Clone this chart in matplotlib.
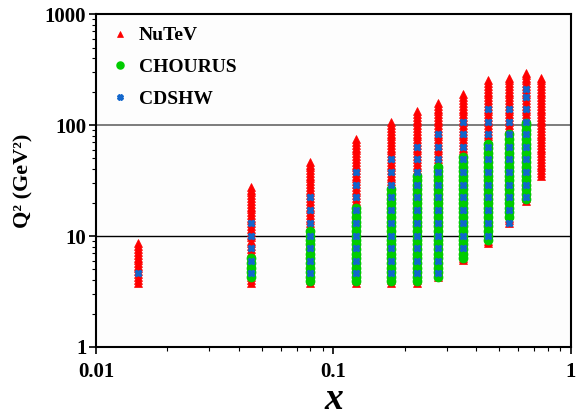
import numpy as np
import matplotlib
matplotlib.use('Agg')
import matplotlib.pyplot as plt
from matplotlib.ticker import FixedLocator, FixedFormatter, LogLocator, NullFormatter

plt.rcParams['font.family'] = ['Liberation Serif', 'DejaVu Serif']
plt.rcParams['font.weight'] = 'bold'

# x bins shared by the three data sets
x_bins = [0.015, 0.045, 0.08, 0.125, 0.175, 0.225, 0.275, 0.35, 0.45, 0.55, 0.65, 0.75]

# Q2 grid values (GeV^2) of each experiment
nutev_q2 = [3.8, 4.0, 4.3, 4.5, 4.8, 5.1, 5.4, 5.7, 6.1, 6.4, 6.8, 7.2, 7.7,
            8.1, 8.6, 9.1, 9.7, 10.3, 10.9, 11.6, 12.3, 13.0, 13.8, 14.6, 15.5,
            16.4, 17.4, 18.4, 19.5, 20.7, 21.9, 23.3, 24.7, 26.1, 27.7, 29.4,
            31.1, 33.0, 35.0, 37.1, 39.3, 41.6, 44.1, 46.8, 49.6, 52.6, 55.7,
            59.1, 62.6, 66.4, 70.4, 74.6, 79.1, 83.8, 88.8, 94.2, 99.8, 106,
            112, 119, 126, 133, 141, 150, 159, 168, 178, 189, 200, 212, 225,
            239, 253, 268, 284, 294]
chorus_q2 = [3.9, 4.3, 4.7, 5.2, 5.7, 6.3, 6.9, 7.6, 8.4, 9.2, 10.1, 11.1,
             12.2, 13.5, 14.8, 16.3, 17.9, 19.7, 21.7, 23.9, 26.3, 28.9, 31.8,
             35.0, 38.5, 42.3, 46.5, 51.2, 56.3, 61.9, 68.1, 74.9, 82.4, 90.6,
             99.7, 104]
cdshw_q2 = [4.6, 6.0, 7.8, 10.1, 13.2, 17.1, 22.3, 29.0, 37.7, 49.0, 63.7,
            82.8, 107, 140, 180, 210]

# Q2 range covered in every x bin (None = no data)
nutev_min = [3.8, 3.8, 3.8, 3.8, 3.8, 3.8, 4.1, 5.8, 8.6, 13.0, 20.0, 34.0]
nutev_max = [9.0, 27.5, 49.0, 76.0, 106, 136, 158, 198, 255, 281, 294, 270]
chorus_min = [None, 4.0, 3.9, 3.9, 3.9, 3.9, 4.3, 6.3, 9.2, 14.5, 21.0, None]
chorus_max = [None, 6.5, 12.0, 19.0, 27.0, 35.0, 42.0, 54.0, 70.0, 87.0, 104, None]
cdshw_min = [4.5, 4.5, 4.5, 4.5, 4.5, 4.5, 4.5, 6.5, 9.2, 13.0, 22.0, None]
cdshw_max = [4.7, 13.5, 24.5, 38.0, 54.0, 71.0, 88.0, 111, 145, 176, 210, None]


def collect(grid, lows, highs):
    xs, ys = [], []
    for xb, lo, hi in zip(x_bins, lows, highs):
        if lo is None:
            continue
        for q in grid:
            if lo * 0.99 <= q <= hi * 1.01:
                xs.append(xb)
                ys.append(q)
    return xs, ys


fig = plt.figure(figsize=(5.76, 4.16), dpi=100)
ax = fig.add_axes([0.1667, 0.166, 0.8243, 0.8])
ax.set_facecolor('#fdfdfd')

ax.axhline(10, color='black', lw=1.0, zorder=1)
ax.axhline(100, color='#666666', lw=1.2, zorder=1)

xs, ys = collect(nutev_q2, nutev_min, nutev_max)
ax.plot(xs, ys, ls='none', marker='^', ms=5.5, color='#ff0000', mec='#ff0000',
        mew=0.5, label='NuTeV', zorder=3)
xs, ys = collect(chorus_q2, chorus_min, chorus_max)
ax.plot(xs, ys, ls='none', marker='o', ms=6, color='#00cc00', mec='#00cc00',
        label='CHOURUS', zorder=4)
xs, ys = collect(cdshw_q2, cdshw_min, cdshw_max)
ax.plot(xs, ys, ls='none', marker='X', ms=5, color='#1166cc', mec='#1166cc',
        mew=1.0, label='CDSHW', zorder=5)

ax.set_xscale('log')
ax.set_yscale('log')
ax.set_xlim(0.01, 1)
ax.set_ylim(1, 1000)

ax.xaxis.set_major_locator(FixedLocator([0.01, 0.1, 1]))
ax.xaxis.set_major_formatter(FixedFormatter(['0.01', '0.1', '1']))
ax.yaxis.set_major_locator(FixedLocator([1, 10, 100, 1000]))
ax.yaxis.set_major_formatter(FixedFormatter(['1', '10', '100', '1000']))
ax.xaxis.set_minor_locator(LogLocator(subs=np.arange(2, 10)))
ax.yaxis.set_minor_locator(LogLocator(subs=np.arange(2, 10)))
ax.xaxis.set_minor_formatter(NullFormatter())
ax.yaxis.set_minor_formatter(NullFormatter())

ax.tick_params(which='major', direction='out', length=5, width=1.2,
               labelsize=15)
ax.tick_params(axis='x', which='major', pad=6)
ax.tick_params(axis='y', which='major', pad=2)
ax.tick_params(which='minor', direction='out', length=3, width=0.8)
for lab in ax.get_xticklabels() + ax.get_yticklabels():
    lab.set_fontweight('bold')
for sp in ax.spines.values():
    sp.set_linewidth(1.5)

ax.set_xlabel('x', fontsize=27, fontweight='bold', style='italic', labelpad=0)
ax.set_ylabel('Q² (GeV²)', fontsize=16, fontweight='bold', labelpad=8)

leg = ax.legend(loc='upper left', bbox_to_anchor=(0.0, 1.0), frameon=False,
                fontsize=14, handletextpad=0.35, labelspacing=0.72,
                markerscale=0.85, borderaxespad=0.3, borderpad=0.35,
                handlelength=1.2)
for t in leg.get_texts():
    t.set_fontweight('bold')

fig.savefig('out.png', dpi=100)
